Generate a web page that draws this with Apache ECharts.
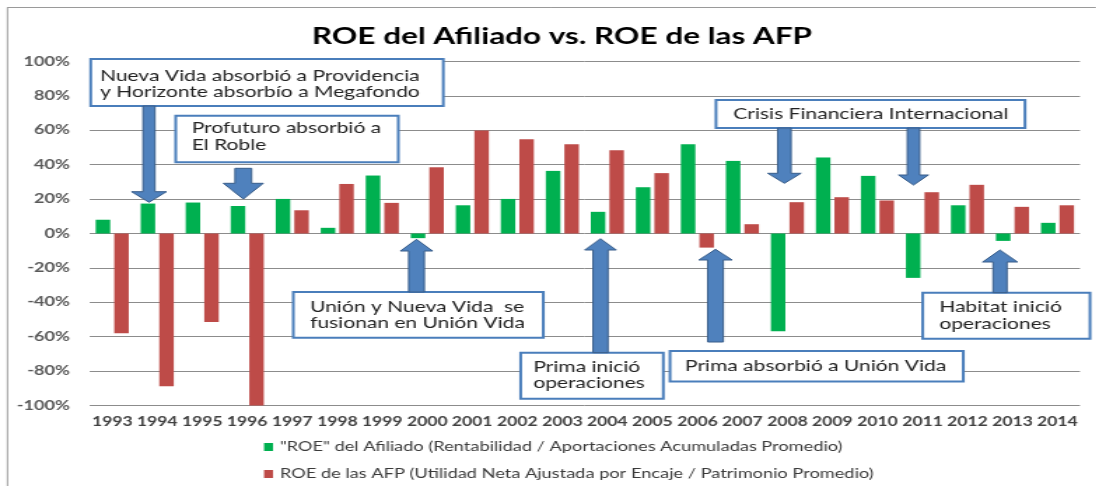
<!DOCTYPE html>
<html>
<head>
<meta charset="utf-8">
<script src="https://cdn.jsdelivr.net/npm/echarts@6/dist/echarts.min.js"></script>
<style>
html,body{margin:0;padding:0;background:#fff;overflow:hidden;}
#wrap{width:1096px;height:486px;overflow:hidden;position:relative;background:#fff;}
#chart{width:783px;height:486px;transform:scaleX(1.4);transform-origin:0 0;}
</style>
</head>
<body>
<div id="wrap"><div id="chart"></div></div>
<script>
// ---- data ----
const years = ['1993','1994','1995','1996','1997','1998','1999','2000','2001','2002','2003',
               '2004','2005','2006','2007','2008','2009','2010','2011','2012','2013','2014'];
const roeAfiliado = [8, 17.4, 18, 16, 20.1, 3.3, 33.7, -2.7, 16.4, 20.1, 36.4,
                     12.6, 26.9, 51.9, 42.2, -56.8, 44.2, 33.5, -25.8, 16.4, -4.3, 6.2];
const roeAfp = [-58, -88.8, -51.4, -100, 13.5, 28.8, 17.8, 38.5, 59.9, 54.8, 51.9,
                48.4, 35.1, -8.2, 5.4, 18.2, 21.1, 19.2, 24, 28.3, 15.5, 16.4];
const seriesNames = ['"ROE" del Afiliado (Rentabilidad / Aportaciones Acumuladas Promedio)',
                     'ROE de las AFP (Utilidad Neta Ajustada por Encaje / Patrimonio Promedio)'];
const titleText = 'ROE del Afiliado vs. ROE de las AFP';
const yMin = -100, yMax = 100, yStep = 20;

const noteNueva = 'Nueva Vida absorbió a Providencia\ny Horizonte absorbío a Megafondo';
const noteProfuturo = 'Profuturo absorbió a\nEl Roble';
const noteCrisis = 'Crisis Financiera Internacional';
const noteUnion = 'Unión y Nueva Vida  se\nfusionan en Unión Vida';
const notePrimaIni = 'Prima inició\noperaciones';
const notePrimaAbs = 'Prima absorbió a Unión Vida';
const noteHabitat = 'Habitat inició\noperaciones';

// ---- layout helpers (the picture is horizontally stretched) ----
const S = 1.4;
const X = px => px / S;
const FONT = 'Lato, "Open Sans", sans-serif';
const BLUE_LINE = '#4A7EBB';

function box(x1, y1, x2, y2) {
  return { type: 'rect', z: 100,
    shape: { x: X(x1), y: y1, width: X(x2) - X(x1), height: y2 - y1 },
    style: { fill: '#fff', stroke: BLUE_LINE, lineWidth: 2 } };
}
function label(text, x, top, lh) {
  return { type: 'text', z: 101, x: X(x), y: top,
    style: { text: text, fontFamily: FONT, fontSize: 15, lineHeight: lh,
             fill: '#222', align: 'left', verticalAlign: 'top' } };
}
function arrowDown(cx, shaftHalf, headHalf, top, headY, tip) {
  return { type: 'polygon', z: 102,
    shape: { points: [[X(cx - shaftHalf), top], [X(cx + shaftHalf), top], [X(cx + shaftHalf), headY],
      [X(cx + headHalf), headY], [X(cx), tip], [X(cx - headHalf), headY], [X(cx - shaftHalf), headY]] },
    style: { fill: '#4F81BD', stroke: '#385D8A', lineWidth: 1 } };
}
function arrowUp(cx, shaftHalf, headHalf, bottom, headY, tip) {
  return arrowDown(cx, shaftHalf, headHalf, bottom, headY, tip);
}

const graphics = [
  { type: 'line', z: 100, shape: { x1: X(7), y1: 7.5, x2: X(1096), y2: 7.5 }, style: { stroke: '#9a9a9a', lineWidth: 1 } },
  { type: 'line', z: 100, shape: { x1: X(7.5), y1: 7.5, x2: X(7.5), y2: 486 }, style: { stroke: '#9a9a9a', lineWidth: 1 } },

  box(90.7, 59, 443.3, 106), label(noteNueva, 100, 67.5, 16.5),
  arrowDown(149, 6, 17.5, 106, 191.7, 202.3),

  box(175.7, 115.7, 398.3, 162.3), label(noteProfuturo, 191.7, 119.5, 17),
  arrowDown(243.3, 8.3, 20, 168.3, 183.3, 199),

  box(716, 100, 1025, 128), label(noteCrisis, 733.3, 105.8, 17),
  arrowDown(784.4, 6.7, 16.7, 128, 173.3, 183.3),
  arrowDown(913.5, 6.2, 15, 128, 175, 185),

  box(293.3, 292, 543.3, 337.7), label(noteUnion, 310, 299.5, 15.5),
  arrowUp(416.5, 7.8, 16.2, 292, 251, 239.3),

  box(520.7, 352.7, 663.3, 398.7), label(notePrimaIni, 533.3, 358.5, 16.5),
  arrowUp(600.5, 7.5, 15.8, 352.7, 250, 238.7),

  box(670, 351, 963.3, 381.5), label(notePrimaAbs, 685, 357.5, 17),
  arrowUp(715.5, 7.8, 16.7, 342, 260, 249.3),

  box(922.7, 292.7, 1090, 338.7), label(noteHabitat, 939.3, 299.2, 16.5),
  arrowUp(1000, 7, 17.5, 292.7, 262, 250)
];

const chart = echarts.init(document.getElementById('chart'), null, { renderer: 'canvas' });
chart.setOption({
  animation: false,
  backgroundColor: '#fff',
  title: {
    text: titleText, left: X(555), top: 20, textAlign: 'center',
    textStyle: { fontFamily: FONT, fontWeight: 'bold', fontSize: 22.5, color: '#000' }
  },
  grid: { left: X(89.7), right: 783 - X(1080), top: 61.5, bottom: 80.5, containLabel: false },
  legend: {
    orient: 'vertical', left: X(257), top: 435, itemWidth: X(9), itemHeight: 8, itemGap: 13,
    icon: 'rect',
    textStyle: { fontFamily: FONT, fontSize: 13, color: '#3a3a3a', lineHeight: 14 },
    data: seriesNames
  },
  xAxis: {
    type: 'category', data: years,
    axisLine: { show: false }, axisTick: { show: false },
    axisLabel: { fontFamily: FONT, fontSize: 12.5, fontWeight: 'bold', color: '#404040', margin: 10, interval: 0 }
  },
  yAxis: {
    type: 'value', min: yMin, max: yMax, interval: yStep,
    axisLine: { show: false }, axisTick: { show: false },
    axisLabel: { formatter: '{value}%', fontFamily: FONT, fontSize: 13, fontWeight: 'bold', color: '#595959', margin: X(19.7) },
    splitLine: { lineStyle: { color: '#8c8c8c', width: 1 } }
  },
  series: [
    { name: seriesNames[0], type: 'bar', data: roeAfiliado, barWidth: X(14.5), barGap: '28%',
      itemStyle: { color: '#00B050' } },
    { name: seriesNames[1], type: 'bar', data: roeAfp, barWidth: X(14.5), barGap: '28%',
      itemStyle: { color: '#BE4B48' } }
  ],
  graphic: graphics
});
</script>
</body>
</html>
